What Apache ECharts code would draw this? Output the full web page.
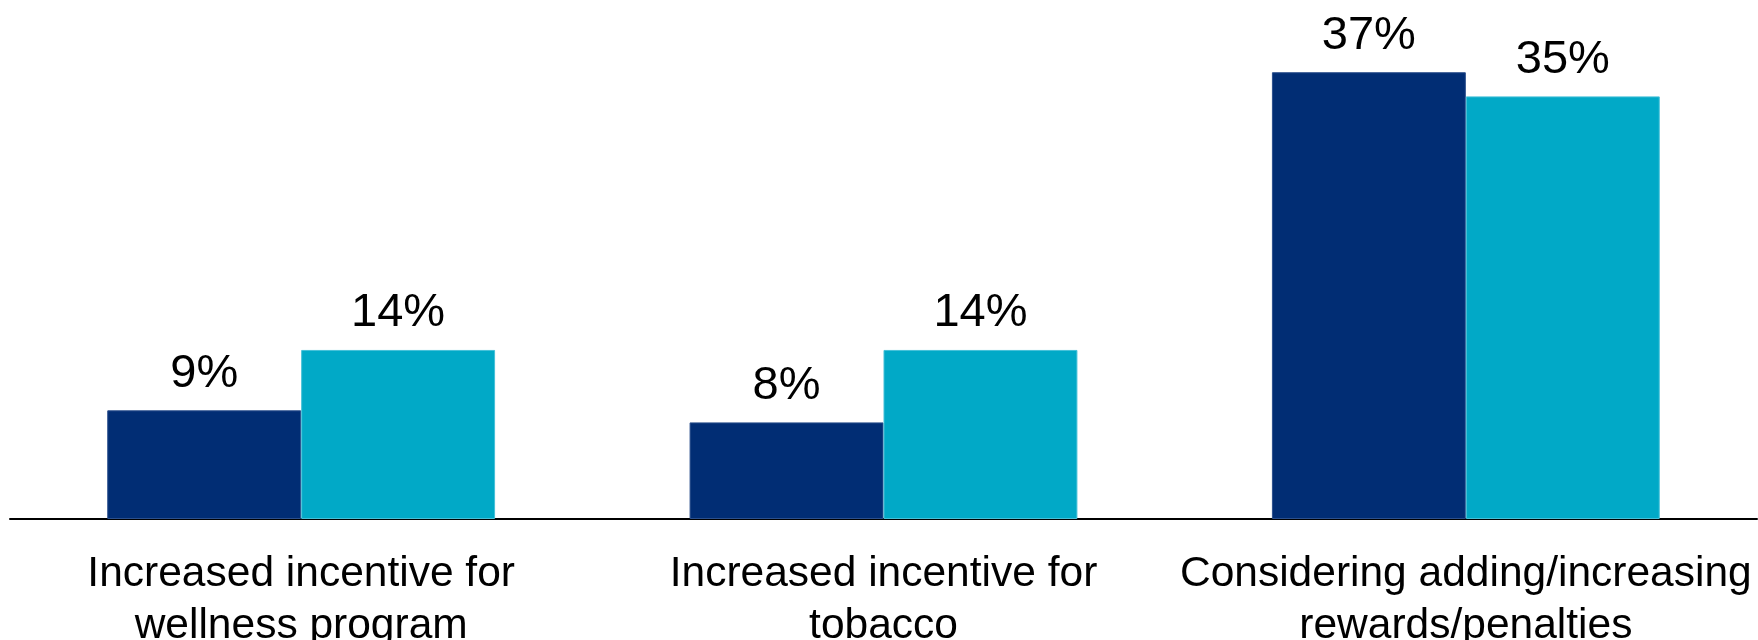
<!DOCTYPE html>
<html>
<head>
<meta charset="utf-8">
<script src="https://cdn.jsdelivr.net/npm/echarts@6/dist/echarts.min.js"></script>
<style>
  html, body { margin: 0; padding: 0; background: #ffffff; }
  #chart { width: 1758px; height: 640px; }
</style>
</head>
<body>
<div id="chart"></div>
<script>
// Category labels along the x axis
const categories = [
  'Increased incentive for\nwellness program',
  'Increased incentive for\ntobacco',
  'Considering adding/increasing\nrewards/penalties'
];
// Percent values for the two bar series
const seriesA = [9, 8, 37];
const seriesB = [14, 14, 35];

const FONT = '"Liberation Sans", Arial, Helvetica, sans-serif';

const chart = echarts.init(document.getElementById('chart'), null, { renderer: 'canvas' });

const labelStyle = {
  show: true,
  position: 'top',
  distance: 13,
  color: '#000000',
  fontFamily: FONT,
  fontSize: 47,
  formatter: p => p.value + '%'
};

chart.setOption({
  animation: false,
  backgroundColor: '#ffffff',
  grid: {
    left: 10, right: 1, top: 36, bottom: 121,
    containLabel: false,
    outerBoundsMode: 'none'
  },
  xAxis: {
    type: 'category',
    data: categories,
    axisLine: { show: true, lineStyle: { color: '#000000', width: 2 } },
    axisTick: { show: false },
    axisLabel: {
      color: '#000000',
      fontFamily: FONT,
      fontSize: 42.5,
      lineHeight: 52,
      margin: 29,
      interval: 0
    }
  },
  yAxis: {
    type: 'value',
    min: 0,
    max: 40,
    show: false,
    splitLine: { show: false }
  },
  series: [
    {
      type: 'bar',
      data: seriesA,
      barGap: '0%',
      barCategoryGap: '33.4%',
      itemStyle: { color: '#012D74', borderColor: '#2B4F8C', borderWidth: 1 },
      label: labelStyle
    },
    {
      type: 'bar',
      data: seriesB,
      itemStyle: { color: '#01A9C7', borderColor: '#45C0D8', borderWidth: 1 },
      label: labelStyle
    }
  ]
});
</script>
</body>
</html>
